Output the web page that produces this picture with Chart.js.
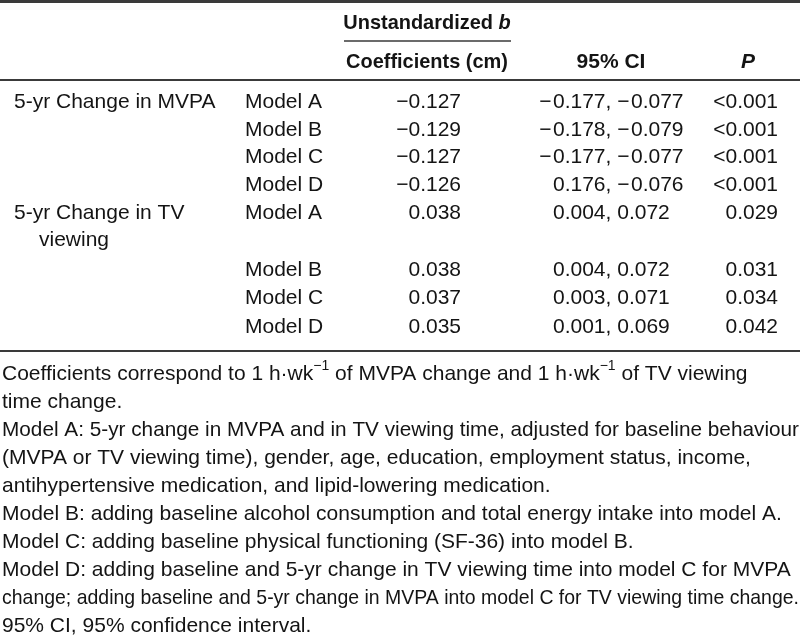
<!DOCTYPE html>
<html><head><meta charset="utf-8">
<script src="https://cdn.jsdelivr.net/npm/chart.js@4/dist/chart.umd.min.js"></script>
<style>html,body{margin:0;padding:0;background:#fff}#wrap{width:800px;height:640px}</style>
</head><body><div id="wrap"><canvas id="c" width="800" height="640"></canvas></div>
<script>
// ---------- DATA ----------
const exposureLabels = [["5-yr Change in MVPA"], ["5-yr Change in TV", "viewing"]];
const models = ["Model A", "Model B", "Model C", "Model D"];
const coefMVPA   = [-0.127, -0.129, -0.127, -0.126];
const ciLowMVPA  = [-0.177, -0.178, -0.177, 0.176];   // printed as "0.176" in the source
const ciHighMVPA = [-0.077, -0.079, -0.077, -0.076];
const pMVPA      = ["<0.001", "<0.001", "<0.001", "<0.001"];
const coefTV     = [0.038, 0.038, 0.037, 0.035];
const ciLowTV    = [0.004, 0.004, 0.003, 0.001];
const ciHighTV   = [0.072, 0.072, 0.071, 0.069];
const pTV        = ["0.029", "0.031", "0.034", "0.042"];
const headerTop  = [{t:"Unstandardized "}, {t:"b", i:true}];
const headerCols = ["Coefficients (cm)", "95% CI", "P"];
const notes = [
  [{t:"Coefficients correspond to 1 h\u00b7wk"},{t:"\u22121",sup:true},{t:" of MVPA change and 1 h\u00b7wk"},{t:"\u22121",sup:true},{t:" of TV viewing"}],
  [{t:"time change."}],
  [{t:"Model A: 5-yr change in MVPA and in TV viewing time, adjusted for baseline behaviour"}],
  [{t:"(MVPA or TV viewing time), gender, age, education, employment status, income,"}],
  [{t:"antihypertensive medication, and lipid-lowering medication."}],
  [{t:"Model B: adding baseline alcohol consumption and total energy intake into model A."}],
  [{t:"Model C: adding baseline physical functioning (SF-36) into model B."}],
  [{t:"Model D: adding baseline and 5-yr change in TV viewing time into model C for MVPA"}],
  [{t:"change; adding baseline and 5-yr change in MVPA into model C for TV viewing time change."}],
  [{t:"95% CI, 95% confidence interval."}]
];

// ---------- LAYOUT (pixel units of the hidden linear scales) ----------
const L = {
  xExp: 14, xExpWrap: 39, xModel: 245, xCoef: 461, xCI: 553, xP: 778,
  xHead: 427, xCIHead: 611, xPHead: 748, xUnderA: 344, xUnderB: 511,
  yHeadTop: 23, yHeadCols: 62, yUnder: 41, yTopRule: 1.5, yHeadRule: 80, yBottomRule: 351,
  bodyRows: [102, 130, 157, 185, 213, 240, 270, 298, 327],
  noteY0: 374, noteStep: 28, xNote: 2,
  minusGapCoef: 0, minusGapCI: 1.5, boldSqueeze: 0.95,
  fontSize: 21, font: '"Liberation Sans", Arial, sans-serif'
};

const MINUS = "\u2212";
function numRuns(v, gap) {
  const body = Math.abs(v).toFixed(3);
  return v < 0 ? [{t: MINUS, gapAfter: gap}, {t: body}] : [{t: body}];
}

// ---------- BUILD CELLS ----------
const cells = [];
function cell(x, y, runs, align, extra) { cells.push(Object.assign({x, y, runs, align}, extra || {})); }
cell(L.xHead, L.yHeadTop, headerTop.map(r => Object.assign({b:true}, r)), 'center', {sq: L.boldSqueeze});
cell(L.xHead, L.yHeadCols, [{t:headerCols[0], b:true}], 'center', {sq: L.boldSqueeze});
cell(L.xCIHead, L.yHeadCols, [{t:headerCols[1], b:true}], 'center');
cell(L.xPHead, L.yHeadCols, [{t:headerCols[2], b:true, i:true}], 'center');
const groups = [
  {lab: exposureLabels[0], coef: coefMVPA, lo: ciLowMVPA, hi: ciHighMVPA, p: pMVPA, rows: [0,1,2,3]},
  {lab: exposureLabels[1], coef: coefTV, lo: ciLowTV, hi: ciHighTV, p: pTV, rows: [4,6,7,8]}
];
groups.forEach(g => {
  g.lab.forEach((s, k) => cell(k === 0 ? L.xExp : L.xExpWrap, L.bodyRows[g.rows[0] + k], [{t:s}], 'left'));
  models.forEach((m, i) => {
    const y = L.bodyRows[g.rows[i]];
    cell(L.xModel, y, [{t:m}], 'left');
    cell(L.xCoef, y, numRuns(g.coef[i], L.minusGapCoef), 'right');
    const ciRuns = numRuns(g.lo[i], L.minusGapCI).concat([{t:", "}], numRuns(g.hi[i], L.minusGapCI));
    cell(L.xCI, y, ciRuns, 'left', {hangFirst: g.lo[i] < 0});
    cell(L.xP, y, [{t:g.p[i]}], 'right');
  });
});
notes.forEach((runs, i) => cell(L.xNote, L.noteY0 + i * L.noteStep, runs, 'left', {maxW: 797}));

// ---------- RULES ----------
const ruleColor = '#3a3a3a';
const rules = [
  {y: L.yTopRule, a: 0, b: 800, w: 3},
  {y: L.yUnder, a: L.xUnderA, b: L.xUnderB, w: 1.6},
  {y: L.yHeadRule, a: 0, b: 800, w: 2},
  {y: L.yBottomRule, a: 0, b: 800, w: 2}
];

function fontFor(r) {
  const size = r.sup ? Math.round(L.fontSize * 0.68) : L.fontSize;
  return (r.i ? 'italic ' : '') + (r.b ? 'bold ' : '') + size + 'px ' + L.font;
}

const tablePlugin = {
  id: 'tableText',
  afterDatasetsDraw(chart) {
    const ctx = chart.ctx;
    const meta = chart.getDatasetMeta(0);
    ctx.save();
    ctx.fillStyle = '#141414';
    ctx.textBaseline = 'middle';
    ctx.textAlign = 'left';
    cells.forEach((c, idx) => {
      const el = meta.data[idx];
      const px = el.x, py = el.y;
      let hs = c.sq || 1;
      const widths = c.runs.map(r => { ctx.font = fontFor(r); return ctx.measureText(r.t).width * hs + (r.gapAfter || 0); });
      let total = widths.reduce((s, w) => s + w, 0);
      if (c.maxW && total > c.maxW) { const f = c.maxW / total; hs *= f; widths.forEach((w, k) => widths[k] = w * f); total = c.maxW; }
      let x = c.align === 'right' ? px - total : c.align === 'center' ? px - total / 2 : px;
      if (c.hangFirst) x -= widths[0];
      c.runs.forEach((r, k) => {
        ctx.font = fontFor(r);
        ctx.save();
        ctx.translate(x, py + (r.sup ? -L.fontSize * 0.38 : 0));
        ctx.scale(hs, 1);
        ctx.fillText(r.t, 0, 0);
        ctx.restore();
        x += widths[k];
      });
    });
    ctx.restore();
  }
};

const datasets = [{
  label: 'cells', data: cells.map(c => ({x: c.x, y: c.y})), pointRadius: 0, showLine: false
}];
rules.forEach(r => datasets.push({
  label: 'rule', data: [{x: r.a, y: r.y}, {x: r.b, y: r.y}], showLine: true,
  borderColor: ruleColor, borderWidth: r.w, pointRadius: 0, fill: false
}));

new Chart(document.getElementById('c'), {
  type: 'scatter',
  data: {datasets},
  options: {
    responsive: false, animation: false, events: [],
    layout: {padding: 0},
    scales: {
      x: {type: 'linear', min: 0, max: 800, display: false},
      y: {type: 'linear', min: 0, max: 640, reverse: true, display: false}
    },
    plugins: {legend: {display: false}, tooltip: {enabled: false}}
  },
  plugins: [tablePlugin]
});
</script>
</body></html>
